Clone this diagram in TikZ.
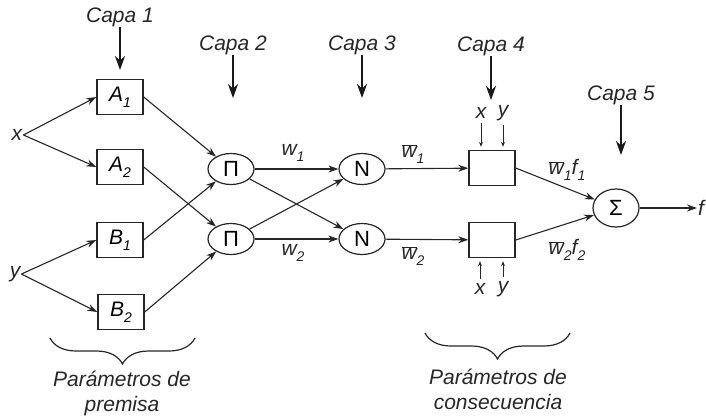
\documentclass[tikz,border=0pt]{standalone}
\usepackage{fontspec}
\setmainfont{Liberation Sans}
\usetikzlibrary{arrows.meta,positioning,shapes.geometric,decorations.pathreplacing}
\newcommand{\subidx}[2]{#1\raisebox{-0.3em}{\fontsize{14}{14}\selectfont #2}}
\newcommand{\wbar}[1]{$\overline{\mbox{\itshape w}}$\raisebox{-0.3em}{\fontsize{14}{14}\selectfont #1}}
\tikzset{
  txt/.style={font=\fontsize{21}{25}\selectfont\itshape, inner sep=1pt, text=black!85},
  mf/.style={draw=black!85, line width=1.4pt, minimum width=46pt, minimum height=35pt,
    inner sep=0pt, font=\fontsize{21}{25}\selectfont\itshape},
  neur/.style={draw=black!85, ellipse, line width=1.2pt, minimum width=46pt, minimum height=31pt,
    inner sep=0pt, font=\fontsize{22}{25}\selectfont},
  conn/.style={-{Stealth[length=10pt,width=7pt]}, line width=1.1pt, draw=black!85},
  capa/.style={-{Stealth[length=14pt,width=10pt]}, line width=2.6pt, draw=black!90},
  small/.style={-{Stealth[length=5pt,width=4pt]}, line width=0.9pt, draw=black!85},
  llave/.style={decorate, decoration={brace, mirror, amplitude=26pt}, line width=1.2pt, draw=black!85},
}
\begin{document}
\begin{tikzpicture}[x=1pt,y=-1pt]
  \useasboundingbox (0,0) rectangle (706,416);

  % Entradas
  \node[txt] (xin) at (17,135) {x};
  \node[txt] (yin) at (15,274) {y};

  % Capa 1
  \node[mf] (a1) at (120,97) {\subidx{A}{1}};
  \node[mf] (a2) at (120,167) {\subidx{A}{2}};
  \node[mf] (b1) at (120,240) {\subidx{B}{1}};
  \node[mf] (b2) at (121,312) {\subidx{B}{2}};

  % Capa 2 y Capa 3
  \node[neur] (p1) at (231,169) {Π};
  \node[neur] (p2) at (231,239) {Π};
  \node[neur] (n1) at (362,169) {N};
  \node[neur] (n2) at (362,239) {N};

  % Capa 4 y Capa 5
  \node[mf] (c1) at (492,168) {};
  \node[mf] (c2) at (492,240) {};
  \node[neur, minimum width=46pt, minimum height=38pt] (s) at (616,208) {Σ};
  \node[txt, anchor=west] (fout) at (697,208) {f};

  % Etiquetas de capa
  \node[txt] (capa1) at (120,17) {Capa 1};
  \node[txt] (capa2) at (233,45) {Capa 2};
  \node[txt] (capa3) at (362,45) {Capa 3};
  \node[txt] (capa4) at (491,46) {Capa 4};
  \node[txt] (capa5) at (621,95) {Capa 5};
  \coordinate (k1) at (120,70);
  \coordinate (k2) at (233,98);
  \coordinate (k3) at (362,98);
  \coordinate (k4) at (491,100);
  \coordinate (k5) at (621,155);
  \foreach \i in {1,...,5}
    \draw[capa] (capa\i.south) ++(0,-1) -- (k\i);

  % Conexiones
  \draw[conn] (xin.east) -- (a1.west);
  \draw[conn] (xin.east) -- (a2.west);
  \draw[conn] (yin.east) -- (b1.west);
  \draw[conn] (yin.east) -- (b2.west);
  \draw[conn] (a1.east) -- (p1);
  \draw[conn] (a2.east) -- (p2);
  \draw[conn] (b1.east) -- (p1);
  \draw[conn] (b2.east) -- (p2);
  \draw[conn] (p1) -- (n1);
  \draw[conn] (p1) -- (n2);
  \draw[conn] (p2) -- (n1);
  \draw[conn] (p2) -- (n2);
  \draw[conn] (n1) -- (c1);
  \draw[conn] (n2) -- (c2);
  \draw[conn] (c1.east) -- (s);
  \draw[conn] (c2.east) -- (s);
  \draw[conn] (s) -- (fout.west);

  % Pesos
  \node[txt] (w1) at (293,153) {\subidx{w}{1}};
  \node[txt] (w2) at (293,253) {\subidx{w}{2}};
  \node[txt] (wb1) at (413,154) {\wbar{1}};
  \node[txt] (wb2) at (413,256) {\wbar{2}};
  \node[txt] (wf1) at (567,170) {\wbar{1}\subidx{f}{1}};
  \node[txt] (wf2) at (567,250) {\wbar{2}\subidx{f}{2}};

  % Entradas de la capa 4
  \node[txt] (cx1) at (481,113) {x};
  \node[txt] (cy1) at (503,113) {y};
  \node[txt] (cx2) at (480,289) {x};
  \node[txt] (cy2) at (503,289) {y};
  \draw[small, shorten <=3pt, shorten >=3pt] (cx1.south) -- (cx1.south |- c1.north);
  \draw[small, shorten <=3pt, shorten >=3pt] (cy1.south) -- (cy1.south |- c1.north);
  \draw[small, shorten <=3pt, shorten >=3pt] (cx2.north) -- (cx2.north |- c2.south);
  \draw[small, shorten <=3pt, shorten >=3pt] (cy2.north) -- (cy2.north |- c2.south);

  % Llaves
  \coordinate (l1) at (50,338);
  \coordinate (l2) at (195,338);
  \coordinate (r1) at (425,333);
  \coordinate (r2) at (570,333);
  \draw[llave] (l1) -- (l2);
  \draw[llave] (r1) -- (r2);
  \node[txt, align=center] (prem) at (122,393) {Parámetros de\\premisa};
  \node[txt, align=center] (cons) at (498,389) {Parámetros de\\consecuencia};
\end{tikzpicture}
\end{document}
